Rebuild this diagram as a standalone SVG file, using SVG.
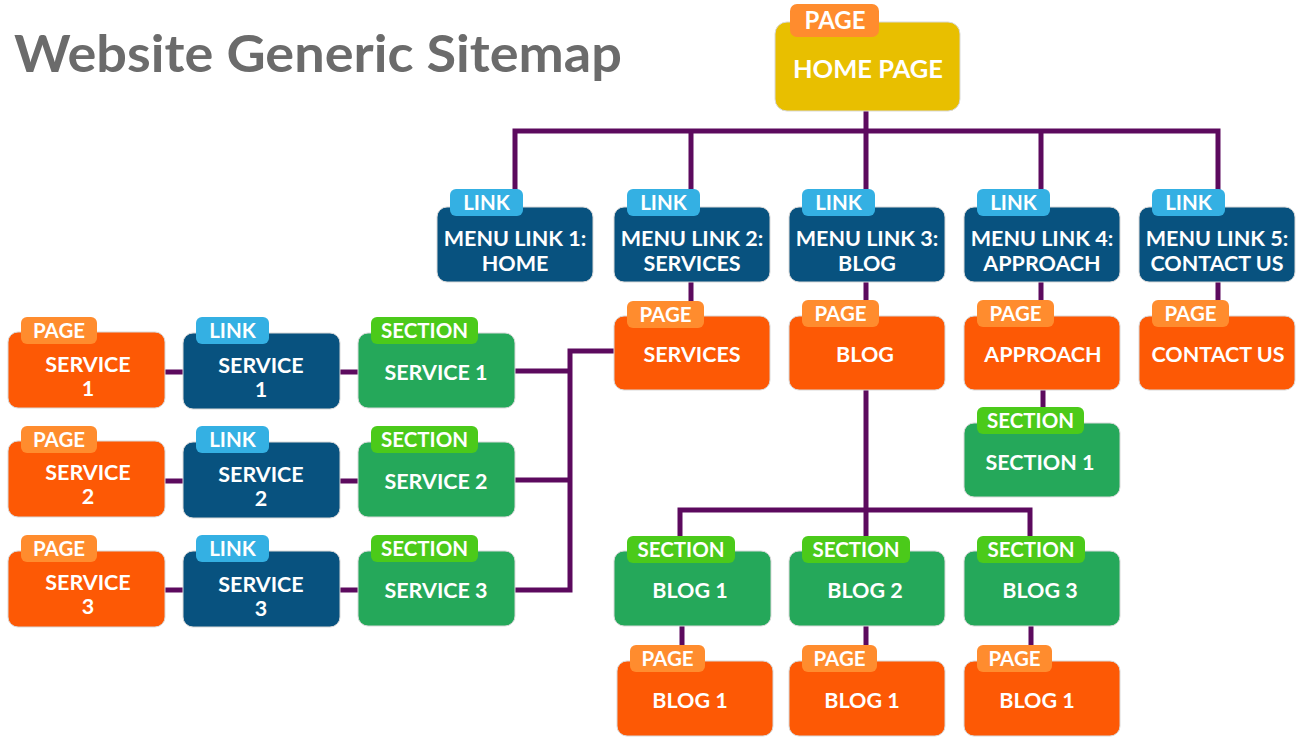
<svg xmlns="http://www.w3.org/2000/svg" width="1297" height="737" viewBox="0 0 1297 737">
  <style>
    .t { font-family: Lato, "Liberation Sans", sans-serif; font-weight: 700; fill: #fff; text-anchor: middle; }
    .lbl { font-size: 21.5px; }
    .tag { font-size: 20.5px; }
    .box { stroke: #d9d9d9; stroke-width: 1; }
    .page { fill: #fd5905; }
    .link { fill: #08527f; }
    .sect { fill: #25a85a; }
    .home { fill: #e8bf00; }
    .tpage { fill: #ff8c2e; }
    .tlink { fill: #34b0e3; }
    .tsect { fill: #4bca1a; }
    .wire { fill: none; stroke: #5c0a5e; stroke-width: 5; stroke-linejoin: miter; }
  </style>
  <rect width="1297" height="737" fill="#fff"/>
  <text x="14" y="72" font-family="Lato, 'Liberation Sans', sans-serif" font-weight="700" font-size="52" fill="#6b6b6b" textLength="608" lengthAdjust="spacingAndGlyphs">Website Generic Sitemap</text>

  <g id="connectors" class="wire">
    <path d="M866 111 V131"/>
    <path d="M515 207 V131 H1218 V207"/>
    <path d="M691 131 V207 M866 131 V207 M1041 131 V207"/>
    <path d="M691 282 V316 M866 282 V316 M1041 282 V316 M1218 282 V316"/>
    <path d="M1043 390 V423"/>
    <path d="M866 390 V510"/>
    <path d="M680 551 V510 H1030 V551"/>
    <path d="M866 510 V551"/>
    <path d="M682 626 V661 M866 626 V661 M1031 626 V661"/>
    <path d="M614 351 H570 V590 H515"/>
    <path d="M515 371 H570 M515 480 H570"/>
    <path d="M165 372 H183 M340 372 H358"/>
    <path d="M165 481 H183 M340 481 H358"/>
    <path d="M165 590 H183 M340 590 H358"/>
  </g>

  <g id="home">
    <rect class="box home" x="775" y="22" width="185" height="89" rx="12"/>
    <rect class="tpage" x="790" y="4" width="89" height="33" rx="7"/>
    <text class="t" x="835" y="29" font-size="24">PAGE</text>
    <text class="t" x="868" y="78" font-size="25.5">HOME PAGE</text>
  </g>

  <!-- menu links -->
  <g id="menu1">
    <rect class="box link" x="437" y="207" width="156" height="75" rx="10"/>
    <rect class="tlink" x="450" y="189" width="73" height="27" rx="6"/>
    <text class="t tag" x="486.5" y="210">LINK</text>
    <text class="t lbl" x="515" y="246">MENU LINK 1:</text>
    <text class="t lbl" x="515" y="271">HOME</text>
  </g>
  <g id="menu2">
    <rect class="box link" x="614" y="207" width="156" height="75" rx="10"/>
    <rect class="tlink" x="627" y="189" width="73" height="27" rx="6"/>
    <text class="t tag" x="663.5" y="210">LINK</text>
    <text class="t lbl" x="692" y="246">MENU LINK 2:</text>
    <text class="t lbl" x="692" y="271">SERVICES</text>
  </g>
  <g id="menu3">
    <rect class="box link" x="789" y="207" width="156" height="75" rx="10"/>
    <rect class="tlink" x="802" y="189" width="73" height="27" rx="6"/>
    <text class="t tag" x="838.5" y="210">LINK</text>
    <text class="t lbl" x="867" y="246">MENU LINK 3:</text>
    <text class="t lbl" x="867" y="271">BLOG</text>
  </g>
  <g id="menu4">
    <rect class="box link" x="964" y="207" width="156" height="75" rx="10"/>
    <rect class="tlink" x="977" y="189" width="73" height="27" rx="6"/>
    <text class="t tag" x="1013.5" y="210">LINK</text>
    <text class="t lbl" x="1042" y="246">MENU LINK 4:</text>
    <text class="t lbl" x="1042" y="271">APPROACH</text>
  </g>
  <g id="menu5">
    <rect class="box link" x="1139" y="207" width="156" height="75" rx="10"/>
    <rect class="tlink" x="1152" y="189" width="73" height="27" rx="6"/>
    <text class="t tag" x="1188.5" y="210">LINK</text>
    <text class="t lbl" x="1217" y="246">MENU LINK 5:</text>
    <text class="t lbl" x="1217" y="271">CONTACT US</text>
  </g>

  <!-- top-level pages -->
  <g id="page-services">
    <rect class="box page" x="614" y="316" width="156" height="74" rx="10"/>
    <rect class="tpage" x="627" y="301" width="77" height="27" rx="6"/>
    <text class="t tag" x="665.5" y="322">PAGE</text>
    <text class="t lbl" x="692" y="362">SERVICES</text>
  </g>
  <g id="page-blog">
    <rect class="box page" x="789" y="316" width="156" height="74" rx="10"/>
    <rect class="tpage" x="802" y="300" width="77" height="27" rx="6"/>
    <text class="t tag" x="840.5" y="321">PAGE</text>
    <text class="t lbl" x="865" y="362">BLOG</text>
  </g>
  <g id="page-approach">
    <rect class="box page" x="964" y="316" width="156" height="74" rx="10"/>
    <rect class="tpage" x="977" y="300" width="77" height="27" rx="6"/>
    <text class="t tag" x="1015.5" y="321">PAGE</text>
    <text class="t lbl" x="1043" y="362">APPROACH</text>
  </g>
  <g id="page-contact">
    <rect class="box page" x="1139" y="316" width="156" height="74" rx="10"/>
    <rect class="tpage" x="1152" y="300" width="77" height="27" rx="6"/>
    <text class="t tag" x="1190.5" y="321">PAGE</text>
    <text class="t lbl" x="1218" y="362">CONTACT US</text>
  </g>

  <g id="approach-section1">
    <rect class="box sect" x="964" y="423" width="156" height="74" rx="10"/>
    <rect class="tsect" x="977" y="407" width="107" height="27" rx="6"/>
    <text class="t tag" x="1030.5" y="428">SECTION</text>
    <text class="t lbl" x="1040" y="470">SECTION 1</text>
  </g>

  <!-- blog sections -->
  <g id="blog-section1">
    <rect class="box sect" x="614" y="551" width="157" height="75" rx="10"/>
    <rect class="tsect" x="627" y="536" width="108" height="27" rx="6"/>
    <text class="t tag" x="681" y="557">SECTION</text>
    <text class="t lbl" x="690" y="598">BLOG 1</text>
  </g>
  <g id="blog-section2">
    <rect class="box sect" x="789" y="551" width="156" height="75" rx="10"/>
    <rect class="tsect" x="802" y="536" width="108" height="27" rx="6"/>
    <text class="t tag" x="856" y="557">SECTION</text>
    <text class="t lbl" x="865" y="598">BLOG 2</text>
  </g>
  <g id="blog-section3">
    <rect class="box sect" x="964" y="551" width="156" height="75" rx="10"/>
    <rect class="tsect" x="977" y="536" width="108" height="27" rx="6"/>
    <text class="t tag" x="1031" y="557">SECTION</text>
    <text class="t lbl" x="1040" y="598">BLOG 3</text>
  </g>

  <!-- blog pages -->
  <g id="blog-page1">
    <rect class="box page" x="617" y="661" width="156" height="75" rx="10"/>
    <rect class="tpage" x="630" y="645" width="75" height="27" rx="6"/>
    <text class="t tag" x="667.5" y="666">PAGE</text>
    <text class="t lbl" x="690" y="708">BLOG 1</text>
  </g>
  <g id="blog-page2">
    <rect class="box page" x="789" y="661" width="156" height="75" rx="10"/>
    <rect class="tpage" x="802" y="645" width="75" height="27" rx="6"/>
    <text class="t tag" x="839.5" y="666">PAGE</text>
    <text class="t lbl" x="862" y="708">BLOG 1</text>
  </g>
  <g id="blog-page3">
    <rect class="box page" x="964" y="661" width="156" height="75" rx="10"/>
    <rect class="tpage" x="977" y="645" width="75" height="27" rx="6"/>
    <text class="t tag" x="1014.5" y="666">PAGE</text>
    <text class="t lbl" x="1037" y="708">BLOG 1</text>
  </g>

  <!-- service rows -->
  <g id="service-page1">
    <rect class="box page" x="8" y="332" width="157" height="76" rx="10"/>
    <rect class="tpage" x="21" y="317" width="76" height="27" rx="6"/>
    <text class="t tag" x="59" y="338">PAGE</text>
    <text class="t lbl" x="88" y="372">SERVICE</text>
    <text class="t lbl" x="88" y="396">1</text>
  </g>
  <g id="service-link1">
    <rect class="box link" x="183" y="333" width="157" height="76" rx="10"/>
    <rect class="tlink" x="196" y="317" width="73" height="27" rx="6"/>
    <text class="t tag" x="232.5" y="338">LINK</text>
    <text class="t lbl" x="261" y="373">SERVICE</text>
    <text class="t lbl" x="261" y="397">1</text>
  </g>
  <g id="service-section1">
    <rect class="box sect" x="358" y="333" width="157" height="75" rx="10"/>
    <rect class="tsect" x="371" y="317" width="107" height="27" rx="6"/>
    <text class="t tag" x="424.5" y="338">SECTION</text>
    <text class="t lbl" x="436" y="380">SERVICE 1</text>
  </g>

  <g id="service-page2">
    <rect class="box page" x="8" y="441" width="157" height="76" rx="10"/>
    <rect class="tpage" x="21" y="426" width="76" height="27" rx="6"/>
    <text class="t tag" x="59" y="447">PAGE</text>
    <text class="t lbl" x="88" y="480">SERVICE</text>
    <text class="t lbl" x="88" y="504">2</text>
  </g>
  <g id="service-link2">
    <rect class="box link" x="183" y="442" width="157" height="76" rx="10"/>
    <rect class="tlink" x="196" y="426" width="73" height="27" rx="6"/>
    <text class="t tag" x="232.5" y="447">LINK</text>
    <text class="t lbl" x="261" y="482">SERVICE</text>
    <text class="t lbl" x="261" y="506">2</text>
  </g>
  <g id="service-section2">
    <rect class="box sect" x="358" y="442" width="157" height="75" rx="10"/>
    <rect class="tsect" x="371" y="426" width="107" height="27" rx="6"/>
    <text class="t tag" x="424.5" y="447">SECTION</text>
    <text class="t lbl" x="436" y="489">SERVICE 2</text>
  </g>

  <g id="service-page3">
    <rect class="box page" x="8" y="551" width="157" height="76" rx="10"/>
    <rect class="tpage" x="21" y="535" width="76" height="27" rx="6"/>
    <text class="t tag" x="59" y="556">PAGE</text>
    <text class="t lbl" x="88" y="590">SERVICE</text>
    <text class="t lbl" x="88" y="614">3</text>
  </g>
  <g id="service-link3">
    <rect class="box link" x="183" y="551" width="157" height="76" rx="10"/>
    <rect class="tlink" x="196" y="535" width="73" height="27" rx="6"/>
    <text class="t tag" x="232.5" y="556">LINK</text>
    <text class="t lbl" x="261" y="592">SERVICE</text>
    <text class="t lbl" x="261" y="616">3</text>
  </g>
  <g id="service-section3">
    <rect class="box sect" x="358" y="551" width="157" height="75" rx="10"/>
    <rect class="tsect" x="371" y="535" width="107" height="27" rx="6"/>
    <text class="t tag" x="424.5" y="556">SECTION</text>
    <text class="t lbl" x="436" y="598">SERVICE 3</text>
  </g>
</svg>
